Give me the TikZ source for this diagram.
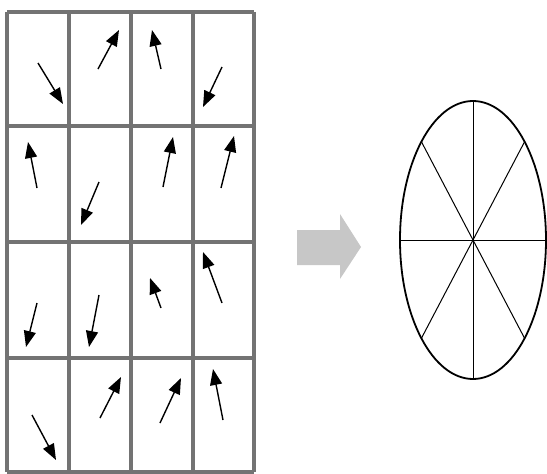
\documentclass[tikz,border=0pt]{standalone}
\usetikzlibrary{arrows.meta}
\begin{document}
\begin{tikzpicture}[x=1pt,y=-1pt,
  gridline/.style={draw=black!55,line width=3.2pt},
  spin/.style={line width=1.4pt,-{Triangle[length=16pt,width=12pt]}},
  spoke/.style={line width=1pt},
  rim/.style={line width=1.8pt},
  bigarrow/.style={fill=black!22,draw=none}]
\useasboundingbox (0,0) rectangle (547,474);
% grid
\foreach \x in {7,69,131,193,254} \draw[gridline] (\x,12) -- (\x,472);
\foreach \y in {12,126,242,358,472} \draw[gridline] (7,\y) -- (254,\y);
% spins: tail / tip coordinates
\coordinate (t11) at (38,63);  \coordinate (h11) at (63,104);
\coordinate (t12) at (98,69);  \coordinate (h12) at (119,30);
\coordinate (t13) at (161,69); \coordinate (h13) at (152,30);
\coordinate (t14) at (222,67); \coordinate (h14) at (203,107);
\coordinate (t21) at (37,188); \coordinate (h21) at (28,142);
\coordinate (t22) at (99,182); \coordinate (h22) at (81,225);
\coordinate (t23) at (163,187);\coordinate (h23) at (173,137);
\coordinate (t24) at (221,188);\coordinate (h24) at (234,136);
\coordinate (t31) at (37,303); \coordinate (h31) at (26,347);
\coordinate (t32) at (99,295); \coordinate (h32) at (89,347);
\coordinate (t33) at (161,308);\coordinate (h33) at (150,278);
\coordinate (t34) at (222,303);\coordinate (h34) at (203,252);
\coordinate (t41) at (32,415); \coordinate (h41) at (56,460);
\coordinate (t42) at (100,418);\coordinate (h42) at (121,377);
\coordinate (t43) at (160,423);\coordinate (h43) at (181,378);
\coordinate (t44) at (223,420);\coordinate (h44) at (213,369);
\foreach \r in {1,2,3,4} \foreach \c in {1,2,3,4}
  \draw[spin] (t\r\c) -- (h\r\c);
% big gray arrow
\path[bigarrow] (297,230) -- (340,230) -- (340,214) -- (361,247) -- (340,279) -- (340,265) -- (297,265) -- cycle;
% disc
\coordinate (c) at (473,240);
\coordinate (n) at (473,101); \coordinate (s) at (473,379);
\coordinate (w) at (400,240); \coordinate (e) at (546,240);
\coordinate (ne) at (524.6,141.7); \coordinate (sw) at (421.4,338.3);
\coordinate (nw) at (421.4,141.7); \coordinate (se) at (524.6,338.3);
\draw[spoke] (n) -- (s);
\draw[spoke] (w) -- (e);
\draw[spoke] (ne) -- (sw);
\draw[spoke] (nw) -- (se);
\draw[rim] (c) ellipse [x radius=73, y radius=139];
\end{tikzpicture}
\end{document}
